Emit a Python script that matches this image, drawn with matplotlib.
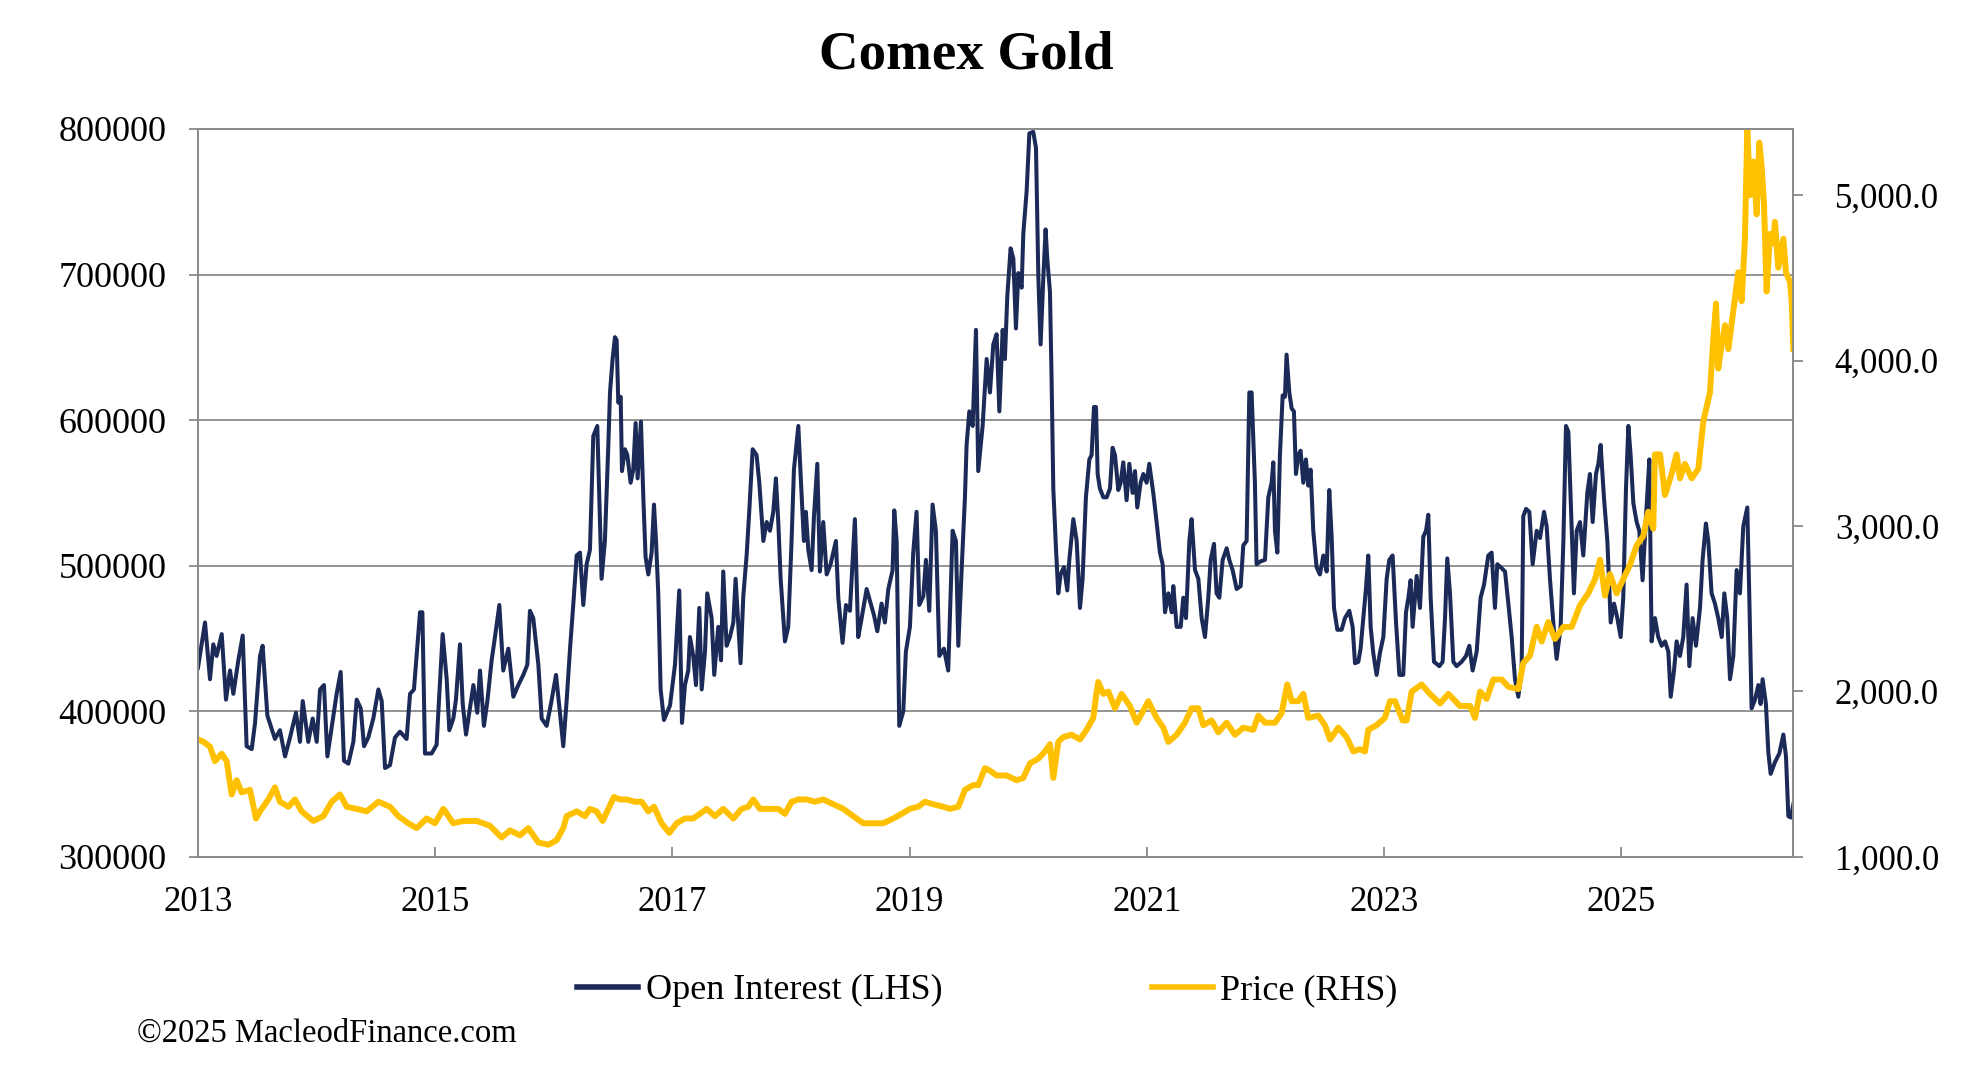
import numpy as np
import matplotlib
matplotlib.use("Agg")
import matplotlib.pyplot as plt

plt.rcParams['font.family'] = ['Liberation Serif', 'DejaVu Serif']

# Open interest, date as decimal year, value in thousands of contracts
oi_year = [
    2013.000, 2013.059, 2013.101, 2013.129, 2013.157, 2013.200, 2013.236, 2013.270, 2013.298, 2013.340,
    2013.377, 2013.410, 2013.453, 2013.481, 2013.523, 2013.545, 2013.585, 2013.649, 2013.691, 2013.734,
    2013.776, 2013.826, 2013.860, 2013.883, 2013.930, 2013.967, 2014.001, 2014.029, 2014.062, 2014.091,
    2014.127, 2014.169, 2014.203, 2014.231, 2014.268, 2014.310, 2014.338, 2014.372, 2014.400, 2014.436,
    2014.478, 2014.521, 2014.549, 2014.577, 2014.619, 2014.661, 2014.703, 2014.759, 2014.788, 2014.821,
    2014.872, 2014.892, 2014.914, 2014.970, 2015.012, 2015.035, 2015.063, 2015.097, 2015.119, 2015.153,
    2015.175, 2015.209, 2015.232, 2015.260, 2015.293, 2015.322, 2015.355, 2015.378, 2015.411, 2015.440,
    2015.476, 2015.504, 2015.541, 2015.574, 2015.617, 2015.659, 2015.701, 2015.743, 2015.777, 2015.799,
    2015.827, 2015.870, 2015.898, 2015.940, 2015.976, 2016.019, 2016.052, 2016.080, 2016.109, 2016.137,
    2016.165, 2016.193, 2016.221, 2016.249, 2016.277, 2016.305,
    2016.333, 2016.367, 2016.403, 2016.431, 2016.460, 2016.474, 2016.496, 2016.516, 2016.530, 2016.544,
    2016.564, 2016.575, 2016.600, 2016.620, 2016.648, 2016.670, 2016.690, 2016.707, 2016.735, 2016.755,
    2016.774, 2016.797, 2016.825, 2016.845, 2016.862, 2016.881, 2016.901, 2016.929, 2016.980, 2017.022,
    2017.058, 2017.081, 2017.106, 2017.134, 2017.148, 2017.176, 2017.199, 2017.227, 2017.247, 2017.275,
    2017.294, 2017.331, 2017.353, 2017.387, 2017.410, 2017.429, 2017.457, 2017.485, 2017.514, 2017.533,
    2017.575, 2017.598, 2017.626, 2017.648, 2017.677, 2017.710, 2017.733, 2017.767, 2017.795, 2017.823,
    2017.851, 2017.873, 2017.893, 2017.913, 2017.949, 2017.977, 2018.005, 2018.025, 2018.062, 2018.081,
    2018.109, 2018.126, 2018.146, 2018.174, 2018.194, 2018.222, 2018.244, 2018.272, 2018.301, 2018.334,
    2018.379, 2018.399, 2018.435, 2018.464, 2018.497, 2018.539, 2018.567, 2018.596, 2018.638, 2018.672,
    2018.700, 2018.728, 2018.764, 2018.792, 2018.821, 2018.857, 2018.871, 2018.891, 2018.913, 2018.947,
    2018.969, 2019.003, 2019.031, 2019.059, 2019.082, 2019.116, 2019.138, 2019.166, 2019.194, 2019.222,
    2019.251, 2019.290, 2019.326, 2019.363, 2019.391, 2019.411, 2019.439, 2019.467, 2019.481, 2019.504,
    2019.532, 2019.560, 2019.579, 2019.616, 2019.650, 2019.678,
    2019.706, 2019.734, 2019.757, 2019.785, 2019.804, 2019.824, 2019.852, 2019.875, 2019.897, 2019.917,
    2019.945, 2019.959, 2019.987, 2020.010, 2020.043, 2020.066, 2020.086, 2020.105, 2020.128, 2020.147,
    2020.161, 2020.184, 2020.198, 2020.212, 2020.235, 2020.254, 2020.274, 2020.302, 2020.330, 2020.347,
    2020.381, 2020.409, 2020.437, 2020.459, 2020.487, 2020.516, 2020.535, 2020.555, 2020.572, 2020.586,
    2020.605, 2020.634, 2020.662, 2020.690, 2020.712, 2020.732, 2020.760, 2020.780, 2020.802, 2020.830,
    2020.853, 2020.881, 2020.901, 2020.920, 2020.948, 2020.971, 2020.999, 2021.021, 2021.055, 2021.083,
    2021.111, 2021.134, 2021.154, 2021.182, 2021.210, 2021.224, 2021.252, 2021.286, 2021.308, 2021.331,
    2021.359, 2021.378, 2021.407, 2021.435, 2021.463, 2021.491, 2021.519, 2021.539, 2021.567, 2021.589,
    2021.612, 2021.640, 2021.674, 2021.696, 2021.724, 2021.758, 2021.792, 2021.814, 2021.842, 2021.865,
    2021.884, 2021.912, 2021.926, 2021.960, 2021.997, 2022.025, 2022.053, 2022.067, 2022.081, 2022.101,
    2022.123, 2022.146, 2022.165, 2022.179, 2022.202, 2022.222, 2022.241, 2022.258, 2022.278, 2022.297,
    2022.320, 2022.342, 2022.362, 2022.382, 2022.404, 2022.432, 2022.460, 2022.489, 2022.517, 2022.539,
    2022.559, 2022.579, 2022.607, 2022.643, 2022.671, 2022.708, 2022.736, 2022.756, 2022.784, 2022.803,
    2022.826, 2022.848, 2022.868, 2022.888, 2022.910, 2022.938, 2022.966, 2022.995, 2023.023, 2023.045,
    2023.073, 2023.102, 2023.130, 2023.163, 2023.186, 2023.206, 2023.225, 2023.242, 2023.276, 2023.304,
    2023.332, 2023.355, 2023.374, 2023.394, 2023.422, 2023.467, 2023.495, 2023.515, 2023.534, 2023.557,
    2023.585, 2023.613, 2023.655, 2023.692, 2023.720, 2023.748, 2023.782, 2023.815, 2023.844, 2023.880,
    2023.908, 2023.936, 2023.956, 2023.984, 2024.021, 2024.049, 2024.077, 2024.105, 2024.133, 2024.161,
    2024.175, 2024.198, 2024.226, 2024.254, 2024.288, 2024.316, 2024.350, 2024.372, 2024.400, 2024.428,
    2024.456, 2024.490, 2024.513, 2024.535, 2024.555, 2024.574, 2024.602, 2024.625, 2024.653, 2024.681,
    2024.715, 2024.737, 2024.760, 2024.788, 2024.808, 2024.827, 2024.855, 2024.884, 2024.912, 2024.940,
    2024.968, 2024.996, 2025.018, 2025.041, 2025.061, 2025.080, 2025.103, 2025.131, 2025.153, 2025.181,
    2025.210, 2025.238, 2025.257, 2025.285, 2025.313, 2025.342, 2025.370, 2025.398, 2025.418, 2025.446,
    2025.468, 2025.496, 2025.524, 2025.552, 2025.575, 2025.603, 2025.631, 2025.665, 2025.687, 2025.715,
    2025.735, 2025.763, 2025.791, 2025.819, 2025.848, 2025.870, 2025.895, 2025.918, 2025.946, 2025.974,
    2026.002, 2026.030, 2026.064, 2026.081, 2026.100, 2026.129, 2026.157, 2026.176, 2026.193, 2026.221,
    2026.241, 2026.261, 2026.297, 2026.334, 2026.368, 2026.390, 2026.410, 2026.432, 2026.452,
]
oi_k = [
    430, 461, 422, 446, 438, 453, 408, 428, 412, 435,
    452, 376, 374, 392, 438, 445, 397, 381, 387, 369,
    382, 399, 379, 407, 379, 395, 379, 415, 418, 369,
    389, 412, 427, 366, 364, 379, 408, 402, 376, 382,
    395, 415, 407, 361, 363, 382, 386, 381, 412, 415,
    468, 468, 371, 371, 377, 412, 453, 422, 387, 395,
    408, 446, 405, 384, 402, 418, 399, 428, 390, 407,
    435, 451, 473, 428, 443, 410, 418, 425, 432, 469,
    464, 432, 395, 390, 405, 425, 399, 376, 408, 443,
    474, 507, 509, 473, 501, 511,
    589, 596, 491, 517, 583, 619, 642, 657, 655, 612,
    616, 565, 580, 576, 557, 566, 598, 560, 599, 547,
    506, 494, 509, 542, 517, 481, 415, 394, 404, 432,
    483, 392, 418, 428, 451, 438, 418, 471, 415, 441,
    481, 464, 425, 458, 435, 496, 445, 451, 461, 491,
    433, 479, 507, 537, 580, 576, 557, 517, 530, 524,
    537, 560, 530, 491, 448, 458, 517, 566, 596, 563,
    517, 537, 511, 497, 534, 570, 496, 530, 494, 501,
    517, 478, 447, 473, 469, 532, 451, 464, 484, 474,
    466, 455, 474, 461, 484, 497, 538, 517, 390, 400,
    441, 458, 509, 537, 473, 479, 504, 469, 542, 524,
    438, 443, 428, 524, 517, 445, 497, 547, 583, 606,
    596, 662, 565, 596, 642, 619,
    652, 659, 606, 662, 642, 685, 718, 711, 663, 701,
    691, 728, 757, 797, 798, 787, 698, 652, 698, 731,
    711, 688, 626, 553, 511, 481, 494, 499, 483, 504,
    532, 517, 471, 491, 547, 573, 576, 609, 609, 563,
    553, 547, 547, 553, 581, 576, 552, 557, 571, 545,
    570, 550, 565, 540, 557, 563, 557, 570, 550, 530,
    509, 501, 468, 481, 468, 486, 458, 458, 478, 464,
    517, 532, 497, 491, 464, 451, 478, 504, 515, 481,
    478, 504, 512, 504, 497, 484, 486, 514, 517, 619,
    619, 557, 501, 503, 504, 547, 557, 571, 524, 509,
    576, 617, 616, 645, 619, 608, 606, 563, 576, 579,
    557, 573, 555, 566, 524, 499, 494, 507, 496, 552,
    520, 471, 456, 456, 464, 469, 458, 433, 434, 443,
    464, 484, 507, 458, 440, 425, 440, 451, 491, 504,
    507, 461, 425, 425, 468, 478, 490, 458, 493, 471,
    520, 524, 535, 478, 434, 431, 434, 464, 505, 481,
    434, 431, 434, 438, 445, 428, 441, 478, 487, 507,
    509, 471, 501, 499, 496, 474, 451, 422, 410, 428,
    534, 539, 537, 501, 524, 519, 537, 527, 491, 461,
    436, 458, 517, 596, 592, 547, 481, 524, 530, 507,
    550, 563, 530, 563, 570, 583, 547, 517, 461, 474,
    464, 451, 478, 553, 596, 576, 543, 530, 524, 490,
    534, 573, 448, 464, 451, 445, 448, 441, 410, 428,
    448, 438, 451, 487, 431, 464, 445, 471, 504, 529,
    517, 481, 474, 464, 451, 481, 464, 422, 438, 497,
    481, 527, 540, 478, 402, 408, 418, 405, 422, 405,
    372, 357, 365, 371, 384, 369, 328, 327, 336,
]

# Gold price, USD/oz
price_year = [
    2013.000, 2013.045, 2013.101, 2013.143, 2013.200, 2013.242, 2013.284, 2013.326, 2013.368, 2013.438,
    2013.489, 2013.523, 2013.593, 2013.649, 2013.691, 2013.762, 2013.818, 2013.874, 2013.972, 2014.057,
    2014.127, 2014.197, 2014.254, 2014.338, 2014.422, 2014.521, 2014.619, 2014.689, 2014.773, 2014.844,
    2014.928, 2014.998, 2015.069, 2015.153, 2015.237, 2015.350, 2015.462, 2015.560, 2015.631, 2015.715,
    2015.785, 2015.870, 2015.954, 2016.024, 2016.080, 2016.109, 2016.193, 2016.263,
    2016.305, 2016.361, 2016.412, 2016.460, 2016.507, 2016.558, 2016.614, 2016.684, 2016.741, 2016.797,
    2016.845, 2016.909, 2016.974, 2017.036, 2017.106, 2017.176, 2017.232, 2017.289, 2017.359, 2017.429,
    2017.514, 2017.584, 2017.640, 2017.682, 2017.738, 2017.823, 2017.893, 2017.949, 2018.005, 2018.062,
    2018.132, 2018.202, 2018.272, 2018.357, 2018.441, 2018.525, 2018.610, 2018.694, 2018.778, 2018.863,
    2018.933, 2019.003, 2019.073, 2019.130, 2019.200, 2019.284, 2019.341, 2019.411, 2019.467, 2019.537,
    2019.579, 2019.636,
    2019.678, 2019.734, 2019.818, 2019.903, 2019.959, 2020.015, 2020.086, 2020.142, 2020.184, 2020.212,
    2020.254, 2020.296, 2020.367, 2020.437, 2020.493, 2020.549, 2020.572, 2020.591, 2020.634, 2020.676,
    2020.732, 2020.788, 2020.858, 2020.915, 2020.971, 2021.013, 2021.083, 2021.140, 2021.182, 2021.252,
    2021.322, 2021.378, 2021.435, 2021.477, 2021.547, 2021.603, 2021.674, 2021.744, 2021.814, 2021.898,
    2021.941, 2021.997, 2022.081, 2022.137, 2022.185, 2022.222, 2022.278, 2022.320, 2022.362, 2022.446,
    2022.503, 2022.545, 2022.615, 2022.685, 2022.742, 2022.798, 2022.840, 2022.868, 2022.938, 2023.008,
    2023.051, 2023.093, 2023.158, 2023.192, 2023.234, 2023.318, 2023.388, 2023.473, 2023.543, 2023.641,
    2023.726, 2023.768, 2023.810, 2023.866, 2023.922, 2023.993, 2024.049, 2024.133, 2024.175, 2024.231,
    2024.288, 2024.330, 2024.386, 2024.442, 2024.513, 2024.583, 2024.653, 2024.723, 2024.780, 2024.822,
    2024.864, 2024.906, 2024.962, 2025.018, 2025.075, 2025.131, 2025.187, 2025.229, 2025.271, 2025.285,
    2025.328, 2025.370, 2025.426, 2025.468, 2025.496, 2025.538, 2025.595, 2025.651, 2025.693, 2025.749,
    2025.777, 2025.800, 2025.819, 2025.848, 2025.876, 2025.904, 2025.946, 2025.988, 2026.016, 2026.044,
    2026.064, 2026.086, 2026.115, 2026.143, 2026.165, 2026.185, 2026.205, 2026.227, 2026.255, 2026.283,
    2026.297, 2026.325, 2026.368, 2026.390, 2026.424, 2026.438, 2026.452,
]
price = [
    1710, 1696, 1666, 1579, 1623, 1579, 1377, 1463, 1390, 1405,
    1232, 1275, 1347, 1420, 1333, 1303, 1347, 1275, 1217, 1246,
    1333, 1377, 1303, 1290, 1275, 1333, 1303, 1246, 1203, 1174,
    1232, 1203, 1290, 1203, 1217, 1217, 1188, 1117, 1160, 1130,
    1174, 1087, 1073, 1101, 1174, 1246, 1275, 1246,
    1290, 1275, 1217, 1290, 1362, 1347, 1347, 1333, 1333, 1275,
    1303, 1203, 1145, 1203, 1232, 1232, 1260, 1290, 1246, 1290,
    1232, 1290, 1303, 1347, 1290, 1290, 1290, 1260, 1333, 1347,
    1347, 1333, 1347, 1318, 1290, 1246, 1203, 1203, 1203, 1232,
    1260, 1290, 1303, 1333, 1318, 1303, 1290, 1303, 1405, 1434,
    1434, 1536,
    1521, 1492, 1492, 1463, 1477, 1565, 1594, 1637, 1681, 1477,
    1695, 1724, 1738, 1710, 1768, 1840, 1970, 2057, 1985, 1999,
    1898, 1985, 1912, 1811, 1884, 1941, 1840, 1781, 1695, 1738,
    1811, 1898, 1898, 1796, 1825, 1753, 1811, 1738, 1781, 1768,
    1854, 1811, 1811, 1868, 2042, 1941, 1941, 1985, 1840, 1854,
    1796, 1710, 1781, 1724, 1637, 1651, 1637, 1768, 1796, 1840,
    1941, 1941, 1825, 1825, 1999, 2042, 1985, 1927, 1985, 1912,
    1912, 1840, 1999, 1955, 2072, 2072, 2028, 2014, 2172, 2216,
    2390, 2302, 2419, 2317, 2390, 2390, 2520, 2593, 2679, 2796,
    2579, 2709, 2593, 2679, 2766, 2883, 2940, 3086, 2984, 3433,
    3433, 3187, 3317, 3433, 3288, 3375, 3288, 3346, 3633, 3807,
    4127, 4345, 3952, 4098, 4214, 4069, 4301, 4534, 4359, 4736,
    5402, 5000, 5203, 4884, 5318, 5173, 4941, 4417, 4766, 4708,
    4839, 4562, 4736, 4534, 4475, 4359, 4069,
]

year_ticks = [2013, 2015, 2017, 2019, 2021, 2023, 2025]
oi_ticks = [300000, 400000, 500000, 600000, 700000, 800000]
price_ticks = [1000, 2000, 3000, 4000, 5000]

navy = '#1B2A57'
gold = '#FFC000'
grey = '#8A8A8A'

fig = plt.figure(figsize=(19.8, 10.66), dpi=100)
ax = fig.add_axes([0.1, 0.1962, 0.8056, 0.6828])

oi_vals = np.array(oi_k) * 1000
l1, = ax.plot(oi_year, oi_vals, color=navy, lw=2.9, solid_joinstyle='round')
ax.set_xlim(2013, 2026.45)
ax.set_ylim(300000, 800000)
ax.set_yticks(oi_ticks)
ax.set_yticklabels([str(t) for t in oi_ticks])
ax.set_xticks(year_ticks)
ax.set_xticklabels([str(y) for y in year_ticks])
ax.yaxis.grid(True, color=grey, lw=1.3)
ax.set_axisbelow(True)

ax2 = ax.twinx()
l2, = ax2.plot(price_year, price, color=gold, lw=4.3, solid_joinstyle='round')
ax2.set_ylim(1000, 5400)
ax2.set_yticks(price_ticks)
ax2.set_yticklabels(['{:,.1f}'.format(t) for t in price_ticks])

for a in (ax, ax2):
    for s in a.spines.values():
        s.set_color(grey)
        s.set_linewidth(1.3)

ax.tick_params(axis='y', direction='out', length=6.5, width=1.3, color=grey, pad=16, labelsize=26)
ax.tick_params(axis='x', direction='in', length=7, width=1.3, color=grey, pad=21, labelsize=25)
ax2.tick_params(axis='y', direction='out', length=7, width=1.3, color=grey, pad=23, labelsize=25)

fig.text(0.488, 0.9353, 'Comex Gold', fontsize=39.5, fontweight='bold', ha='center', va='baseline')

fig.legend([l1, l2], ['Open Interest (LHS)', 'Price (RHS)'], loc='center left',
           bbox_to_anchor=(0.2914, 0.0706), ncol=2, frameon=False, fontsize=26,
           handlelength=1.7, handletextpad=0.2, columnspacing=5.8, borderpad=0, borderaxespad=0)
for h in fig.legends[0].get_lines():
    h.set_linewidth(4)

fig.text(0.0692, 0.0225, '\u00a92025 MacleodFinance.com', fontsize=23.5, ha='left', va='baseline')

fig.savefig('out.png', dpi=100)
